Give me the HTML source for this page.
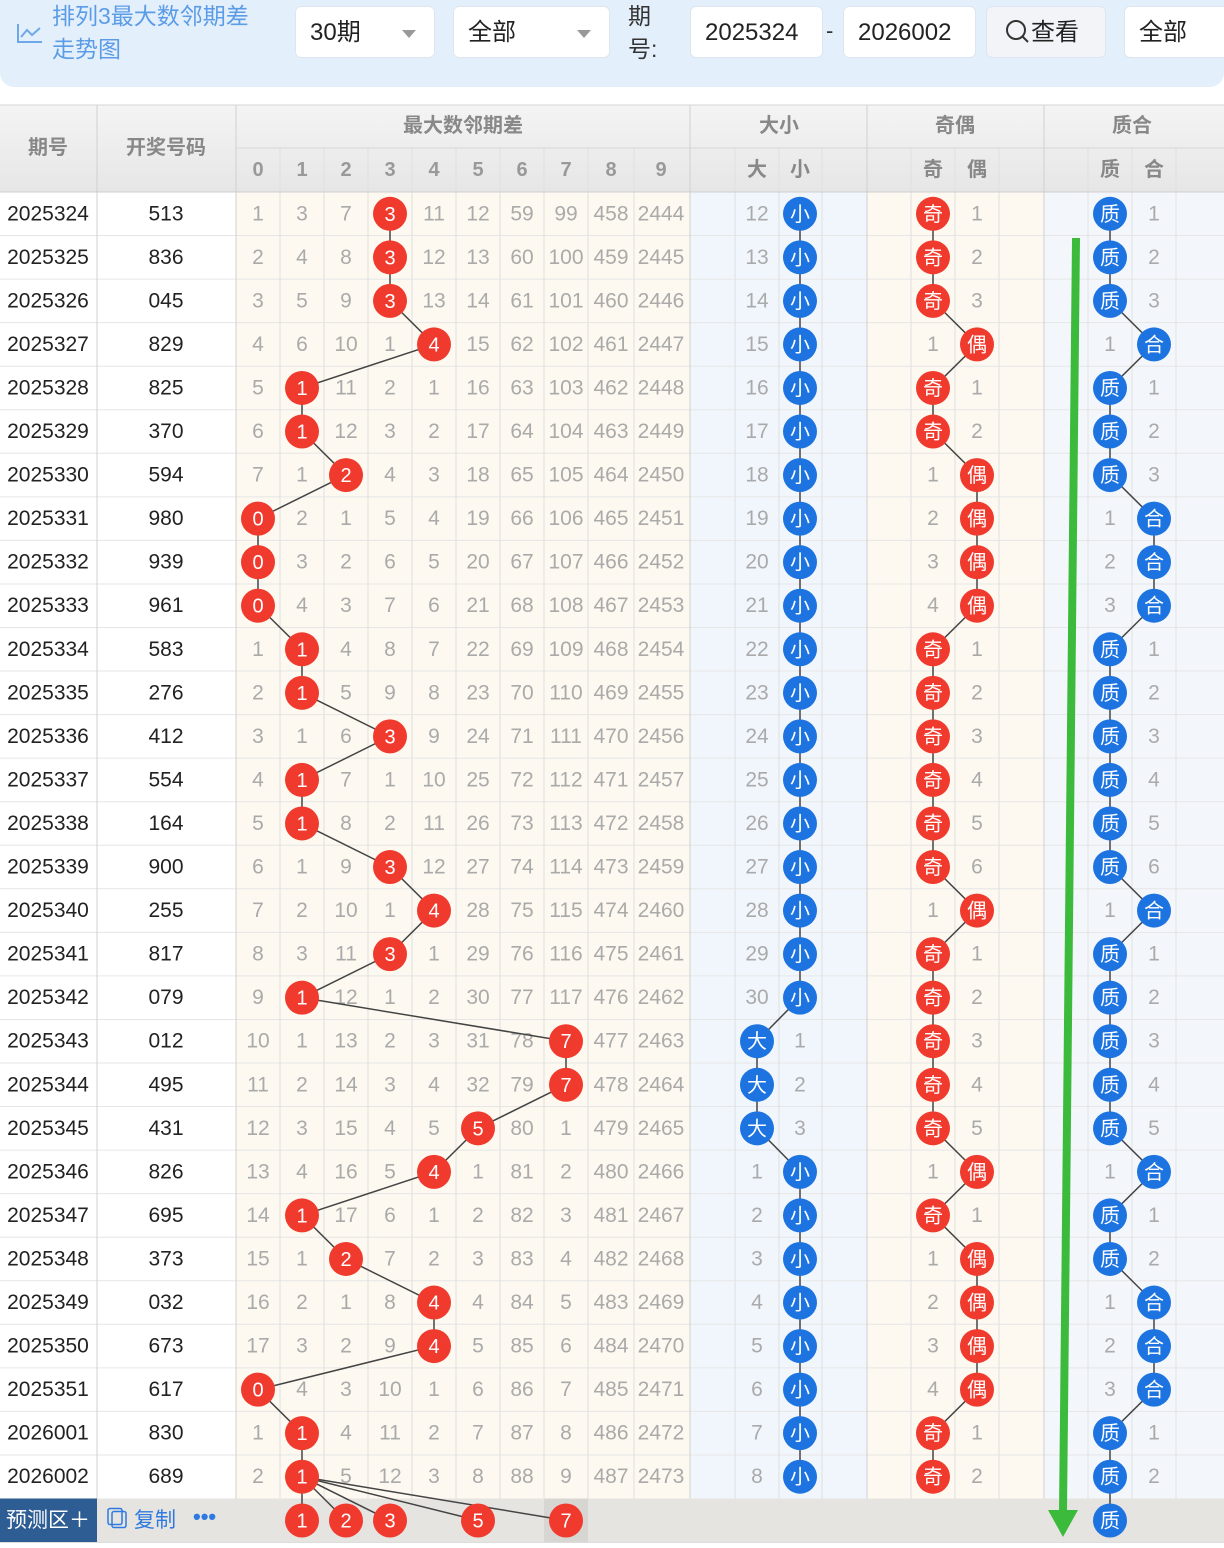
<!DOCTYPE html>
<html><head><meta charset="utf-8"><style>
body{margin:0;width:1224px;height:1548px;overflow:hidden;background:#fff;font-family:"Liberation Sans","Noto Sans CJK SC",sans-serif}
.top{position:absolute;left:0;top:0;width:1224px;height:87px;background:#e4effc;border-radius:0 0 14px 14px;z-index:2}
.box{position:absolute;top:6px;height:52px;background:#fff;border:1px solid #dde6f0;border-radius:6px;font-size:24px;color:#222;line-height:52px;box-sizing:border-box;padding-left:14px}
.tri{position:absolute;right:18px;top:23px;border-left:7px solid transparent;border-right:7px solid transparent;border-top:8px solid #999}
</style></head><body>
<div class="top">
<svg style="position:absolute;left:16px;top:22px" width="28" height="24"><polyline points="2,2 2,20 26,20" fill="none" stroke="#6fa8e8" stroke-width="2"/><polyline points="5,15 11,8 16,13 24,6" fill="none" stroke="#6fa8e8" stroke-width="2"/></svg>
<div style="position:absolute;left:52px;top:0;color:#5b9ce6;font-size:23px;line-height:33px">排列3最大数邻期差<br>走势图</div>
<div class="box" style="left:295px;width:140px">30期<div class="tri"></div></div>
<div class="box" style="left:453px;width:157px">全部<div class="tri"></div></div>
<div style="position:absolute;left:628px;top:0;font-size:23px;line-height:33px;color:#333">期<br>号:</div>
<div class="box" style="left:690px;width:133px">2025324</div>
<div style="position:absolute;left:826px;top:18px;font-size:22px;color:#333">-</div>
<div class="box" style="left:843px;width:133px">2026002</div>
<div class="box" style="left:986px;width:120px;background:#f2f4f7;padding-left:18px">
<svg width="26" height="26" style="vertical-align:-5px"><circle cx="11" cy="11" r="9" fill="none" stroke="#333" stroke-width="2"/><line x1="17" y1="17" x2="23" y2="23" stroke="#333" stroke-width="2"/></svg>查看</div>
<div class="box" style="left:1124px;width:120px">全部</div>
</div>
<svg id="s" style="position:absolute;left:0;top:0" width="1224" height="1548"></svg>
<script>
var rows=[
["2025324","513",[1,3,7,3,11,12,59,99,458,2444],3],
["2025325","836",[2,4,8,3,12,13,60,100,459,2445],3],
["2025326","045",[3,5,9,3,13,14,61,101,460,2446],3],
["2025327","829",[4,6,10,1,4,15,62,102,461,2447],4],
["2025328","825",[5,1,11,2,1,16,63,103,462,2448],1],
["2025329","370",[6,1,12,3,2,17,64,104,463,2449],1],
["2025330","594",[7,1,2,4,3,18,65,105,464,2450],2],
["2025331","980",[0,2,1,5,4,19,66,106,465,2451],0],
["2025332","939",[0,3,2,6,5,20,67,107,466,2452],0],
["2025333","961",[0,4,3,7,6,21,68,108,467,2453],0],
["2025334","583",[1,1,4,8,7,22,69,109,468,2454],1],
["2025335","276",[2,1,5,9,8,23,70,110,469,2455],1],
["2025336","412",[3,1,6,3,9,24,71,111,470,2456],3],
["2025337","554",[4,1,7,1,10,25,72,112,471,2457],1],
["2025338","164",[5,1,8,2,11,26,73,113,472,2458],1],
["2025339","900",[6,1,9,3,12,27,74,114,473,2459],3],
["2025340","255",[7,2,10,1,4,28,75,115,474,2460],4],
["2025341","817",[8,3,11,3,1,29,76,116,475,2461],3],
["2025342","079",[9,1,12,1,2,30,77,117,476,2462],1],
["2025343","012",[10,1,13,2,3,31,78,7,477,2463],7],
["2025344","495",[11,2,14,3,4,32,79,7,478,2464],7],
["2025345","431",[12,3,15,4,5,5,80,1,479,2465],5],
["2025346","826",[13,4,16,5,4,1,81,2,480,2466],4],
["2025347","695",[14,1,17,6,1,2,82,3,481,2467],1],
["2025348","373",[15,1,2,7,2,3,83,4,482,2468],2],
["2025349","032",[16,2,1,8,4,4,84,5,483,2469],4],
["2025350","673",[17,3,2,9,4,5,85,6,484,2470],4],
["2025351","617",[0,4,3,10,1,6,86,7,485,2471],0],
["2026001","830",[1,1,4,11,2,7,87,8,486,2472],1],
["2026002","689",[2,1,5,12,3,8,88,9,487,2473],1]];
var oe="jjjojjoooojjjjjjojjjjjojoooojj", pc="zzzhzzzhhhzzzzzzhzzzzzhzzhhhzz";
var dcx=[258,302,346,390,434,478,522,566,611,661];
var vb=[280,324,368,412,456,500,544,588,634,735,779,822,911,955,999,1088,1132,1176];
var o='';
function R(x,y,w,h,f){o+='<rect x="'+x+'" y="'+y+'" width="'+w+'" height="'+h+'" fill="'+f+'"/>';}
function T(x,y,t,c,s,w){o+='<text x="'+x+'" y="'+y+'" fill="'+c+'" font-size="'+(s||21)+'" text-anchor="middle" dominant-baseline="central"'+(w?' font-weight="bold"':'')+'>'+t+'</text>';}
function B(x,y,t,c){o+='<circle cx="'+x+'" cy="'+y+'" r="17" fill="'+c+'"/>';T(x,y+1,t,'#fff',20);}
function L(a,b,c,d,col,w){o+='<line x1="'+a+'" y1="'+b+'" x2="'+c+'" y2="'+d+'" stroke="'+(col||'#444')+'" stroke-width="'+(w||1.5)+'"/>';}
var tp=105,h0=192,rh=43.55;
o+='<rect x="0" y="'+tp+'" width="1224" height="87" fill="url(#g)"/>';
var N=rows.length;
for(var i=0;i<N;i++){var y=h0+i*rh;
R(0,y,236,rh,'#fff');R(236,y,454,rh,'#fdf9f0');R(690,y,177,rh,'#f1f6fc');R(867,y,177,rh,'#fdf9f0');R(1044,y,180,rh,'#f3f7fc');
L(0,y,1224,y,'#e6e6e6',1);}
var py=h0+N*rh;R(0,py,1224,44,'#e6e4e0');R(0,py,97,44,'#2d5d93');R(544,py,44,44,'#d8d6d2');
vb.forEach(function(x){L(x,148,x,py,'#e0e0e0',1);});
[97,236,690,867,1044].forEach(function(x){L(x,tp,x,py,'#d0d0d0',1);});
L(236,148,1224,148,'#d6d6d6',1);L(0,192,1224,192,'#cfcfcf',1);L(0,tp,1224,tp,'#d6d6d6',1);
T(48,148,'期号','#888',20,1);T(166,148,'开奖号码','#888',20,1);
T(463,126,'最大数邻期差','#888',20,1);T(779,126,'大小','#888',20,1);T(955,126,'奇偶','#888',20,1);T(1132,126,'质合','#888',20,1);
for(var d=0;d<10;d++)T(dcx[d],170,d,'#999',20,1);
T(757,170,'大','#888',20,1);T(800,170,'小','#888',20,1);T(933,170,'奇','#888',20,1);T(977,170,'偶','#888',20,1);T(1110,170,'质','#888',20,1);T(1154,170,'合','#888',20,1);
var pts=[[],[],[],[]];
var cnt={d:11,x:0,j:0,o:0,z:0,h:0};
for(var i=0;i<N;i++){var r=rows[i],cy=h0+i*rh+rh/2;
T(48,cy,r[0],'#222',21);T(166,cy,r[1],'#222',21);
pts[0].push([dcx[r[3]],cy]);
for(var d=0;d<10;d++)if(d!=r[3])T(dcx[d],cy,r[2][d],'#aaa',21);
var big=(i>=19&&i<=21);
if(big){cnt.x++;pts[1].push([757,cy]);T(800,cy,cnt.x,'#aaa',21);cnt.d=0;}else{cnt.d++;cnt.x=0;pts[1].push([800,cy]);T(757,cy,i<19?i+12:cnt.d,'#aaa',21);}
if(oe[i]=='j'){cnt.o++;cnt.j=0;pts[2].push([933,cy]);T(977,cy,cnt.o,'#aaa',21);}else{cnt.j++;cnt.o=0;pts[2].push([977,cy]);T(933,cy,cnt.j,'#aaa',21);}
if(pc[i]=='z'){cnt.h++;cnt.z=0;pts[3].push([1110,cy]);T(1154,cy,cnt.h,'#aaa',21);}else{cnt.z++;cnt.h=0;pts[3].push([1154,cy]);T(1110,cy,cnt.z,'#aaa',21);}
}
var pcy=py+22;
pts.forEach(function(p){for(var k=1;k<p.length;k++)L(p[k-1][0],p[k-1][1],p[k][0],p[k][1]);});
var lp=pts[0][N-1];
[1,2,3,5,7].forEach(function(d){L(lp[0],lp[1],dcx[d],pcy);});
L(1110,pts[3][N-1][1],1110,pcy);
for(var i=0;i<N;i++){var cy=h0+i*rh+rh/2;B(dcx[rows[i][3]],cy,rows[i][3],'#f03a2e');
var big=(i>=19&&i<=21);B(big?757:800,cy,big?'大':'小','#1d74e0');
B(oe[i]=='j'?933:977,cy,oe[i]=='j'?'奇':'偶','#f03a2e');
B(pc[i]=='z'?1110:1154,cy,pc[i]=='z'?'质':'合','#1d74e0');}
[1,2,3,5,7].forEach(function(d){B(dcx[d],pcy,d,'#f03a2e');});B(1110,pcy,'质','#1d74e0');
o+='<text x="6" y="'+pcy+'" fill="#fff" font-size="21" dominant-baseline="central">预测区＋</text>';
o+='<rect x="112" y="'+(pcy-9)+'" width="14" height="16" fill="none" stroke="#2f7ae0" stroke-width="1.5" rx="2"/><rect x="108" y="'+(pcy-12)+'" width="14" height="16" fill="none" stroke="#2f7ae0" stroke-width="1.5" rx="2"/>';
o+='<text x="134" y="'+pcy+'" fill="#2f7ae0" font-size="21" dominant-baseline="central">复制</text>';
o+='<text x="193" y="'+(pcy-4)+'" fill="#2f7ae0" font-size="22" font-weight="bold" dominant-baseline="central">•••</text>';
o+='<line x1="1076" y1="238" x2="1063" y2="1512" stroke="#3cba3c" stroke-width="8"/><polygon points="1048,1510 1078,1510 1063,1537" fill="#3cba3c"/>';
L(0,py+44,1224,py+44,'#ddd',1);
document.getElementById('s').innerHTML='<defs><linearGradient id="g" x1="0" y1="0" x2="0" y2="1"><stop offset="0" stop-color="#f4f4f4"/><stop offset="1" stop-color="#e6e6e6"/></linearGradient></defs>'+o;
</script>
</body></html>
